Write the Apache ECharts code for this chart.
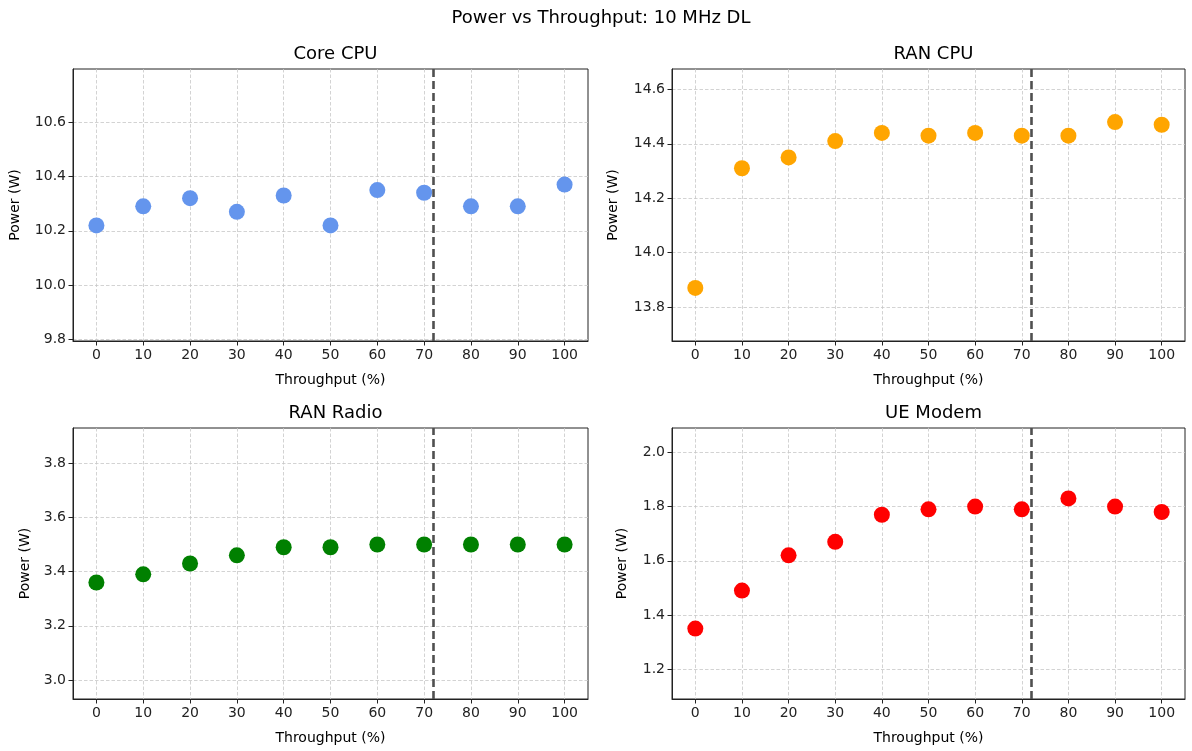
<!DOCTYPE html>
<html>
<head>
<meta charset="utf-8">
<script src="https://cdn.jsdelivr.net/npm/echarts@6/dist/echarts.min.js"></script>
<style>
  html, body { margin: 0; padding: 0; background: #fff; }
  #chart { width: 1192px; height: 751px; }
</style>
</head>
<body>
<div id="chart"></div>
<script>
// 数据
const throughput = [0, 10, 20, 30, 40, 50, 60, 70, 80, 90, 100];
const coreCpu = [10.22, 10.29, 10.32, 10.27, 10.33, 10.22, 10.35, 10.34, 10.29, 10.29, 10.37];
const ranCpu = [13.87, 14.31, 14.35, 14.41, 14.44, 14.43, 14.44, 14.43, 14.43, 14.48, 14.47];
const ranRadio = [3.36, 3.39, 3.43, 3.46, 3.49, 3.49, 3.50, 3.50, 3.50, 3.50, 3.50];
const ueModem = [1.35, 1.49, 1.62, 1.67, 1.77, 1.79, 1.80, 1.79, 1.83, 1.80, 1.78];
const subTitles = ["Core CPU", "RAN CPU", "RAN Radio", "UE Modem"];
const xTicks = [0, 10, 20, 30, 40, 50, 60, 70, 80, 90, 100];
const coreTicks = [9.8, 10.0, 10.2, 10.4, 10.6];
const ranCpuTicks = [13.8, 14.0, 14.2, 14.4, 14.6];
const radioTicks = [3.0, 3.2, 3.4, 3.6, 3.8];
const modemTicks = [1.2, 1.4, 1.6, 1.8, 2.0];
const markX = 72;

const FONT = "DejaVu Sans";
const seriesList = [coreCpu, ranCpu, ranRadio, ueModem];
const tickList = [coreTicks, ranCpuTicks, radioTicks, modemTicks];
const colors = ["#6495ED", "#FFA500", "#008000", "#FF0000"];

// 每个子图的位置
const grids = [
  { left: 73, top: 69, width: 515, height: 272 },
  { left: 672, top: 69, width: 513, height: 272 },
  { left: 73, top: 428, width: 515, height: 271 },
  { left: 672, top: 428, width: 513, height: 271 },
];
const nameGaps = [51, 52, 41, 43];

const gridLine = { show: true, lineStyle: { color: "#c8c8c8", width: 0.8, type: [3.5, 2] } };

const chart = echarts.init(document.getElementById("chart"), null, { renderer: "canvas" });

const option = {
  animation: false,
  backgroundColor: "#fff",
  title: [
    {
      text: "Power vs Throughput: 10 MHz DL",
      left: 596, top: 4, textAlign: "center",
      textStyle: { fontFamily: FONT, fontSize: 18, fontWeight: "normal", color: "#000" },
    },
  ].concat(subTitles.map((t, i) => ({
    text: t,
    left: grids[i].left + grids[i].width / 2,
    top: grids[i].top - 29,
    textAlign: "center",
    textStyle: { fontFamily: FONT, fontSize: 18, fontWeight: "normal", color: "#000" },
  }))),
  grid: grids.map((g) => Object.assign({ show: true, borderColor: "#222", borderWidth: 1, backgroundColor: "transparent" }, g)),
  xAxis: grids.map((g, i) => ({
    type: "value",
    gridIndex: i,
    min: -5,
    max: 105,
    name: "Throughput (%)",
    nameLocation: "middle",
    nameGap: 32,
    nameTextStyle: { fontFamily: FONT, fontSize: 14, color: "#000" },
    axisLine: { show: true, onZero: false, lineStyle: { color: "#222", width: 1 } },
    axisTick: { show: true, length: 4.5, customValues: xTicks, lineStyle: { color: "#222" } },
    axisLabel: { customValues: xTicks, fontFamily: FONT, fontSize: 14, color: "#222", margin: 7 },
    splitLine: gridLine,
  })),
  yAxis: grids.map((g, i) => {
    const vals = seriesList[i];
    const mid = (Math.min(...vals) + Math.max(...vals)) / 2;
    return {
      type: "value",
      gridIndex: i,
      min: mid - 0.5,
      max: mid + 0.5,
      name: "Power (W)",
      nameLocation: "middle",
      nameGap: nameGaps[i],
      nameTextStyle: { fontFamily: FONT, fontSize: 14, color: "#000" },
      axisLine: { show: true, onZero: false, lineStyle: { color: "#222", width: 1 } },
      axisTick: { show: true, length: 4.5, customValues: tickList[i], lineStyle: { color: "#222" } },
      axisLabel: {
        customValues: tickList[i],
        fontFamily: FONT, fontSize: 14, color: "#222", margin: 7,
        formatter: (v) => v.toFixed(1),
      },
      splitLine: gridLine,
    };
  }),
  series: seriesList.map((vals, i) => ({
    type: "scatter",
    xAxisIndex: i,
    yAxisIndex: i,
    symbolSize: 16,
    itemStyle: { color: colors[i], opacity: 1 },
    data: throughput.map((x, k) => [x, vals[k]]),
    markLine: {
      silent: true,
      symbol: "none",
      label: { show: false },
      lineStyle: { color: "#505050", width: 2.6, type: [8, 4] },
      data: [{ xAxis: markX }],
    },
  })),
};

chart.setOption(option);
</script>
</body>
</html>
